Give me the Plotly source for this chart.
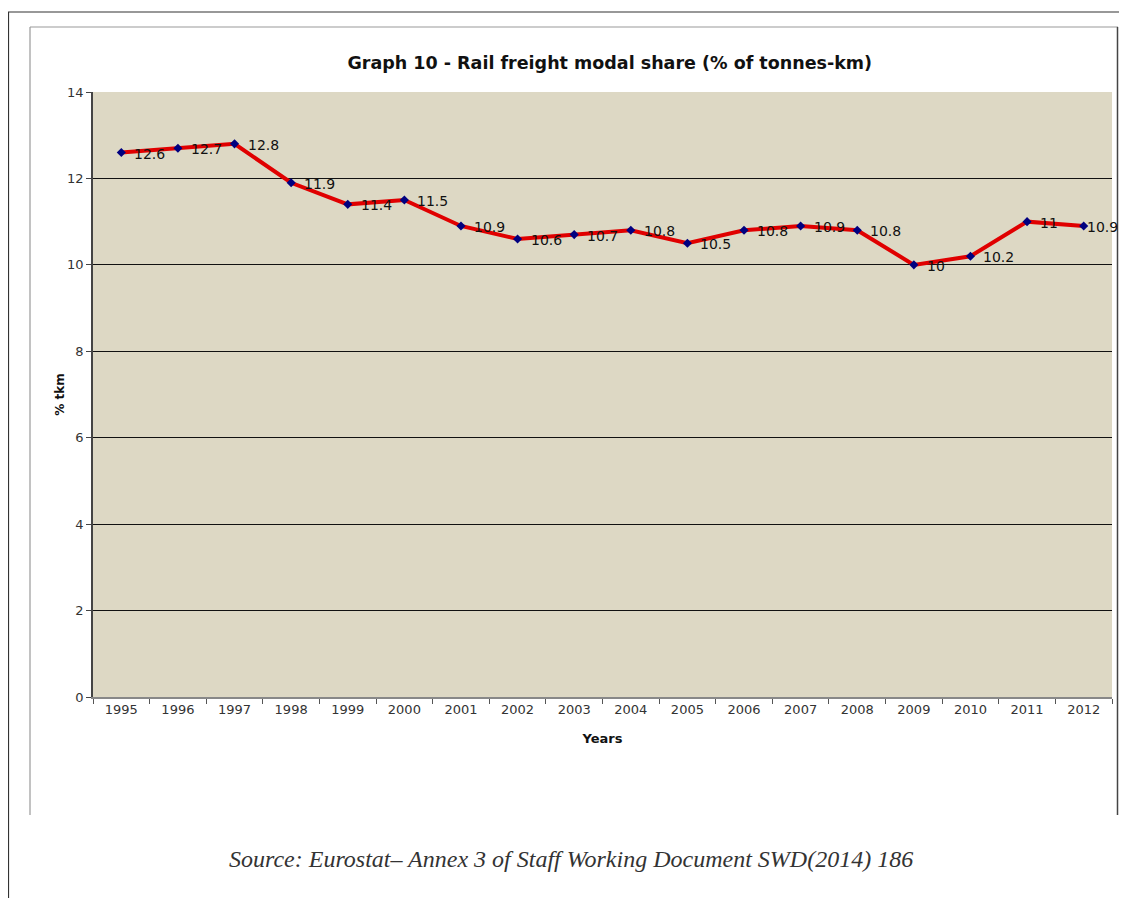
import plotly.graph_objects as go

years = ["1995", "1996", "1997", "1998", "1999", "2000", "2001", "2002", "2003",
         "2004", "2005", "2006", "2007", "2008", "2009", "2010", "2011", "2012"]
share = [12.6, 12.7, 12.8, 11.9, 11.4, 11.5, 10.9, 10.6, 10.7,
         10.8, 10.5, 10.8, 10.9, 10.8, 10.0, 10.2, 11.0, 10.9]
labels = ["12.6", "12.7", "12.8", "11.9", "11.4", "11.5", "10.9", "10.6", "10.7",
          "10.8", "10.5", "10.8", "10.9", "10.8", "10", "10.2", "11", "10.9"]
y_ticks = [0, 2, 4, 6, 8, 10, 12, 14]

# page body has an 8px margin; work in screen pixels and subtract it
OFF = 8
W, H = 1127 - OFF, 906 - 2 * OFF
L, R, T, B = 93 - OFF, 1112 - OFF, 92 - OFF, 697 - OFF

def px(x):
    return (x - OFF - L) / (R - L)

def py(y):
    return (B - (y - OFF)) / (B - T)

fig = go.Figure()
fig.add_trace(go.Scatter(
    x=years, y=share, mode="lines+markers",
    line=dict(color="#E00000", width=4),
    marker=dict(symbol="diamond", size=7, color="#000080"),
    cliponaxis=False, showlegend=False,
))

n = len(labels)
annotations = [
    dict(x=i, y=yv, text=t, xref="x", yref="y", showarrow=False,
         xanchor="left", yanchor="middle", xshift=(1 if i == n - 1 else 11), yshift=-1,
         font=dict(family="Verdana, DejaVu Sans", size=14, color="#111"))
    for i, (yv, t) in enumerate(zip(share, labels))
]
annotations.append(dict(
    text="<i>Source: Eurostat– Annex 3 of Staff Working Document SWD(2014) 186</i>",
    xref="paper", yref="paper", x=px(571), y=py(859), showarrow=False,
    xanchor="center", yanchor="middle",
    font=dict(family="Liberation Serif, Times New Roman, serif", size=24, color="#333"),
))

line_outer = dict(color="#333333", width=1.2)
line_inner = dict(color="#999999", width=1.2)
shapes = [
    dict(type="line", xref="paper", yref="paper", x0=px(8), x1=px(1127), y0=py(12), y1=py(12), line=line_outer),
    dict(type="line", xref="paper", yref="paper", x0=px(8.5), x1=px(8.5), y0=py(12), y1=py(906), line=line_outer),
    dict(type="line", xref="paper", yref="paper", x0=px(30), x1=px(1118), y0=py(27), y1=py(27), line=line_inner),
    dict(type="line", xref="paper", yref="paper", x0=px(30), x1=px(30), y0=py(27), y1=py(815), line=line_inner),
    dict(type="line", xref="paper", yref="paper", x0=px(1117.5), x1=px(1117.5), y0=py(27), y1=py(815), line=dict(color="#444444", width=1.5)),
]

fig.update_layout(
    width=W, height=H,
    margin=dict(l=L, r=W - R, t=T, b=H - B),
    paper_bgcolor="white",
    plot_bgcolor="#DDD8C4",
    font=dict(family="Verdana, DejaVu Sans", size=13, color="#333"),
    title=dict(text="<b>Graph 10 - Rail freight modal share (% of tonnes-km)</b>",
               x=px(641), xanchor="center", y=1 - (63 - OFF) / H, yanchor="middle",
               font=dict(size=17.5, color="#111")),
    shapes=shapes,
    annotations=annotations,
)

fig.update_xaxes(
    type="category", range=[-0.5, 17.5],
    showgrid=False, showline=True, linecolor="#888", linewidth=1.5,
    ticks="outside", tickson="boundaries", ticklen=5, tickcolor="#555",
    tickfont=dict(size=13, color="#333"),
    title=dict(text="<b>Years</b>", font=dict(size=13, color="#111"), standoff=18),
)
fig.update_yaxes(
    range=[0, 14], tickvals=y_ticks,
    showgrid=True, gridcolor="#111", gridwidth=1,
    showline=True, linecolor="#444", linewidth=1.5,
    ticks="outside", ticklen=5, tickcolor="#444",
    tickfont=dict(size=13, color="#333"),
    zeroline=False,
    title=dict(text="<b>% tkm</b>", font=dict(size=12, color="#111"), standoff=0),
)

fig.write_html("out.html")
